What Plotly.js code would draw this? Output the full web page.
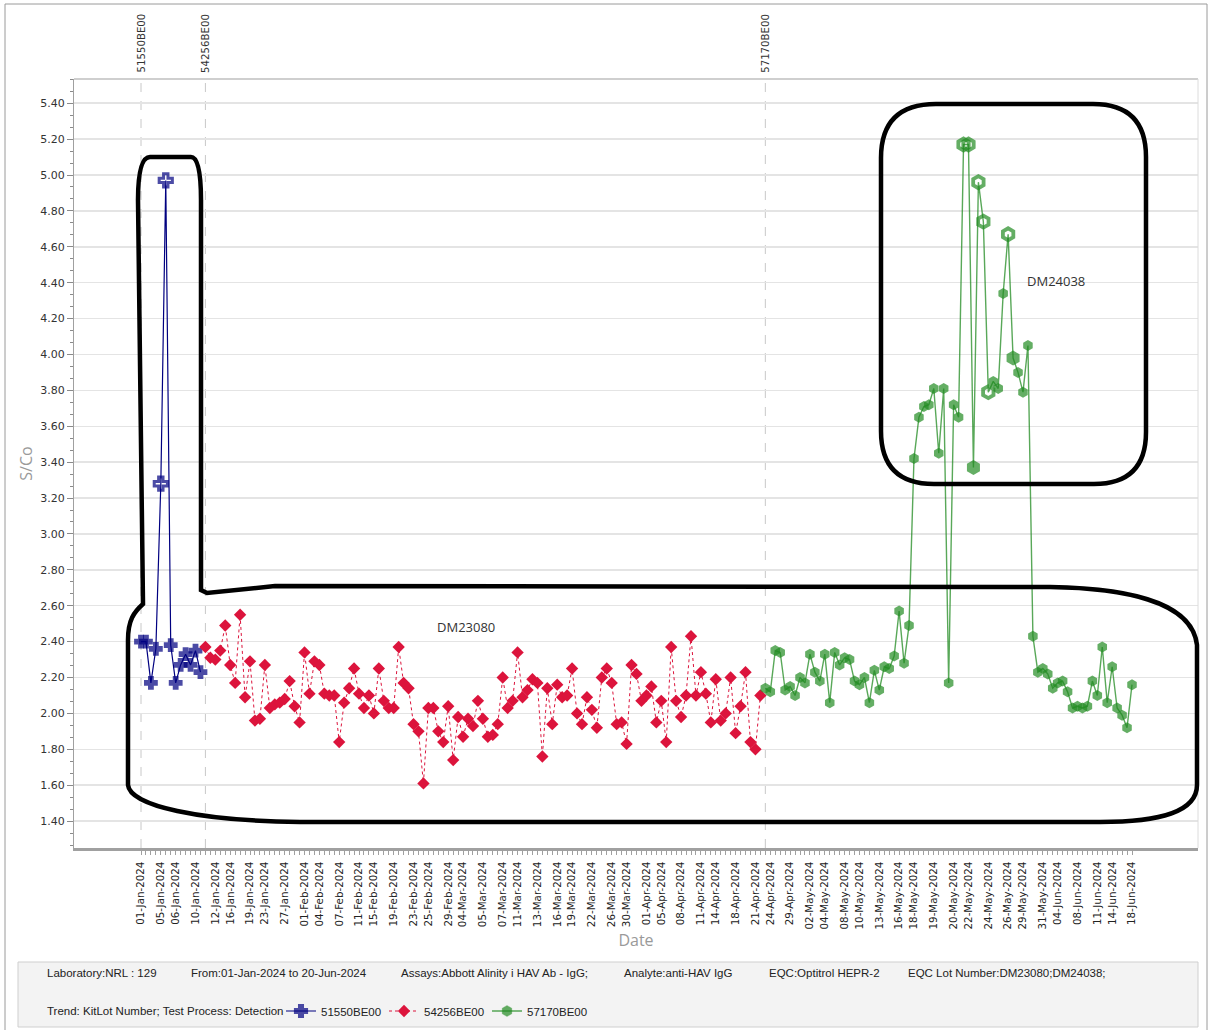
<!DOCTYPE html>
<html><head><meta charset="utf-8">
<script src="https://cdn.plot.ly/plotly-3.0.1.min.js"></script>
<style>html,body{margin:0;padding:0;background:#fff;} #chart{width:1209px;height:1030px;}</style>
</head><body><div id="chart"></div>
<script>
// ---------- DATA ----------
const dateLabels = [
 '01-Jan-2024','05-Jan-2024','06-Jan-2024','10-Jan-2024','12-Jan-2024','16-Jan-2024','19-Jan-2024','23-Jan-2024','27-Jan-2024',
 '01-Feb-2024','04-Feb-2024','07-Feb-2024','11-Feb-2024','15-Feb-2024','19-Feb-2024','23-Feb-2024','25-Feb-2024','29-Feb-2024',
 '04-Mar-2024','05-Mar-2024','07-Mar-2024','11-Mar-2024','13-Mar-2024','16-Mar-2024','19-Mar-2024','22-Mar-2024','26-Mar-2024','30-Mar-2024',
 '01-Apr-2024','05-Apr-2024','08-Apr-2024','11-Apr-2024','14-Apr-2024','18-Apr-2024','21-Apr-2024','24-Apr-2024','29-Apr-2024',
 '02-May-2024','04-May-2024','08-May-2024','10-May-2024','13-May-2024','16-May-2024','18-May-2024','19-May-2024','20-May-2024',
 '22-May-2024','24-May-2024','26-May-2024','29-May-2024','31-May-2024',
 '04-Jun-2024','08-Jun-2024','11-Jun-2024','14-Jun-2024','18-Jun-2024'
];
const lotNames = ['51550BE00','54256BE00','57170BE00'];

const lot51550Values = [2.40, 2.40, 2.17, 2.36, 3.28, 4.97, 2.38, 2.17, 2.27, 2.33, 2.27, 2.35, 2.23];
const lot54256Values = [
 2.37, 2.31, 2.30, 2.35, 2.49, 2.27, 2.17, 2.55, 2.09, 2.29,
 1.96, 1.97, 2.27, 2.03, 2.05, 2.06, 2.08, 2.18, 2.04, 1.95,
 2.34, 2.11, 2.29, 2.27, 2.11, 2.10, 2.10, 1.84, 2.06, 2.14,
 2.25, 2.11, 2.03, 2.10, 2.00, 2.25, 2.07, 2.03, 2.03, 2.37,
 2.17, 2.14, 1.94, 1.90, 1.61,
 2.03, 2.03, 1.90, 1.84, 2.04, 1.74, 1.98, 1.87, 1.97, 1.93,
 2.07, 1.97, 1.87, 1.88, 1.94, 2.20, 2.03, 2.07, 2.34, 2.09,
 2.13, 2.19, 2.17, 1.76, 2.14, 1.94, 2.16, 2.09, 2.10, 2.25,
 2.00, 1.94, 2.09, 2.02, 1.92, 2.20, 2.25, 2.17, 1.94, 1.95,
 1.83, 2.27, 2.22, 2.07, 2.10, 2.15, 1.95, 2.07, 1.84, 2.37,
 2.07, 1.98, 2.10, 2.43, 2.10, 2.23, 2.11, 1.95, 2.19, 1.96,
 2.00, 2.20, 1.89, 2.04, 2.23, 1.84, 1.80, 2.10
];
const lot57170Values = [
 2.14, 2.12, 2.35, 2.34, 2.13, 2.15, 2.10, 2.20, 2.17, 2.33,
 2.23, 2.18, 2.33, 2.06, 2.34, 2.27, 2.31, 2.30, 2.18, 2.16,
 2.20, 2.06, 2.24, 2.13, 2.26, 2.25, 2.32, 2.57, 2.28, 2.49,
 3.42, 3.65, 3.71, 3.72, 3.81, 3.45, 3.81, 2.17, 3.72, 3.65,
 5.17, 5.17, 3.37, 4.96, 4.74, 3.79, 3.85, 3.81, 4.34, 4.67,
 3.98, 3.90, 3.79, 4.05,
 2.43, 2.23, 2.25, 2.22, 2.14, 2.17, 2.18, 2.12, 2.03, 2.04,
 2.03, 2.04, 2.18, 2.10, 2.37, 2.06, 2.26, 2.03, 1.99, 1.92, 2.16
];
// points flagged (drawn hollow) / overlapping points (drawn larger)
const lot51550Flagged = [4, 5];
const lot57170Flagged = [40, 41, 43, 44, 45, 49];
const lot57170Overlap = [42, 50];

const footerRow1 = [
 'Laboratory:NRL : 129', 'From:01-Jan-2024 to 20-Jun-2024', 'Assays:Abbott Alinity i HAV Ab - IgG;',
 'Analyte:anti-HAV IgG', 'EQC:Optitrol HEPR-2', 'EQC Lot Number:DM23080;DM24038;'
];
const footerRow2 = 'Trend: KitLot Number; Test Process: Detection';
const boxLabels = ['DM23080', 'DM24038'];

// ---------- GEOMETRY (pixels of the page) ----------
const W = 1209, H = 1030;
const L = 74, R = 1198, T = 79, B = 848;
const px = v => (v - L) / (R - L);
const py = v => (B - v) / (B - T);
const firstPx = 141, lastPx = 1132;
const n1 = lot51550Values.length, n2 = lot54256Values.length, n3 = lot57170Values.length;
const nTotal = n1 + n2 + n3;
const step = (lastPx - firstPx) / (nTotal - 1);
const start = [0, n1, n1 + n2];
const xRange = [(L - firstPx) / step, (R - firstPx) / step];
const tickVals = dateLabels.map((d, i) => Math.round(i * (nTotal - 1) / (dateLabels.length - 1)));
const allIdx = Array.from({length: nTotal}, (_, i) => i);

function pathPx(s) {
  return s.replace(/(-?[\d.]+),(-?[\d.]+)/g, (m, a, b) => px(+a).toFixed(5) + ',' + py(+b).toFixed(5));
}

const navy = '#000080', crimson = '#DC143C', green = '#228B22';

const blueSym = lot51550Values.map((v, i) => lot51550Flagged.includes(i) ? 'cross-open' : 'cross');
const blueSize = lot51550Values.map((v, i) => lot51550Flagged.includes(i) ? 11 : 10);
const blueLW = lot51550Values.map((v, i) => lot51550Flagged.includes(i) ? 3 : 1.8);

const greenSym = lot57170Values.map((v, i) => lot57170Flagged.includes(i) ? 'hexagon-open' : 'hexagon');
const greenSize = lot57170Values.map((v, i) => lot57170Flagged.includes(i) ? 12 : (lot57170Overlap.includes(i) ? 15 : 11));
const greenLW = lot57170Values.map((v, i) => lot57170Flagged.includes(i) ? 3.8 : 0);

const traces = [
  {
    name: lotNames[0], type: 'scatter', mode: 'lines+markers',
    x: lot51550Values.map((v, i) => start[0] + i), y: lot51550Values,
    line: {color: navy, width: 1.2},
    marker: {symbol: blueSym, size: blueSize, color: navy, line: {color: navy, width: blueLW}}
  },
  {
    name: lotNames[1], type: 'scatter', mode: 'lines+markers',
    x: lot54256Values.map((v, i) => start[1] + i), y: lot54256Values,
    line: {color: crimson, width: 1, dash: 'dot'},
    marker: {symbol: 'diamond', size: 9.5, color: crimson, line: {width: 0}}
  },
  {
    name: lotNames[2], type: 'scatter', mode: 'lines+markers',
    x: lot57170Values.map((v, i) => start[2] + i), y: lot57170Values,
    line: {color: 'rgba(34,139,34,0.75)', width: 1.4},
    marker: {symbol: greenSym, size: greenSize, color: green, line: {color: green, width: greenLW}}
  }
];

const shapes = [];
// outer frame
shapes.push({type: 'rect', xref: 'paper', yref: 'paper', x0: px(5), x1: px(1207), y0: py(1040), y1: py(4),
  line: {color: '#9a9a9a', width: 1}, fillcolor: 'rgba(0,0,0,0)', layer: 'below'});
// footer box
shapes.push({type: 'rect', xref: 'paper', yref: 'paper', x0: px(18), x1: px(1198), y0: py(1027), y1: py(962),
  line: {color: '#cfcfcf', width: 1}, fillcolor: '#f3f3f3', layer: 'below'});
// plot top line and right line
shapes.push({type: 'line', xref: 'paper', yref: 'paper', x0: 0, x1: 1, y0: 1, y1: 1, line: {color: '#a0a0a0', width: 1.2}});
shapes.push({type: 'line', xref: 'paper', yref: 'paper', x0: 1, x1: 1, y0: 0, y1: 1, line: {color: '#dcdcdc', width: 1}});
// lot change dashed lines
start.forEach(s => shapes.push({type: 'line', xref: 'x', yref: 'paper', x0: s, x1: s, y0: 0, y1: 1,
  line: {color: '#c8c8c8', width: 1, dash: 'dash'}, layer: 'below'}));
// hand drawn outline around lots 1 & 2
shapes.push({type: 'path', xref: 'paper', yref: 'paper', line: {color: '#000', width: 4.5},
  path: pathPx('M 143,604 L 138,200 Q 138,157 150,157 L 191,157 Q 201,157 201,200 L 201,590 L 207,593 L 275,586 L 1050,587 C 1120,588 1192,600 1197,645 L 1197,785 C 1197,812 1160,822 1100,822 L 300,822 C 200,821 130,806 128,785 L 128,640 C 128,620 134,612 143,604 Z')});
// outline around DM24038
shapes.push({type: 'path', xref: 'paper', yref: 'paper', line: {color: '#000', width: 4.5},
  path: pathPx('M 936,104 L 1093,104 Q 1146,104 1146,157 L 1146,432 Q 1146,484 1094,484 L 934,484 Q 881,484 881,431 L 881,158 Q 881,104 936,104 Z')});

const annotations = [];
lotNames.forEach((n, k) => annotations.push({xref: 'x', yref: 'paper', x: start[k], y: py(12), xanchor: 'center', yanchor: 'top',
  text: n, textangle: -90, showarrow: false, font: {family: 'DejaVu Sans', size: 10.2, color: '#333'}}));
annotations.push({xref: 'paper', yref: 'paper', x: px(466), y: py(627), xanchor: 'center', yanchor: 'middle', text: boxLabels[0], showarrow: false,
  font: {family: 'Open Sans', size: 13, color: '#333'}});
annotations.push({xref: 'paper', yref: 'paper', x: px(1056), y: py(281), xanchor: 'center', yanchor: 'middle', text: boxLabels[1], showarrow: false,
  font: {family: 'Open Sans', size: 13, color: '#333'}});
const row1X = [45, 189, 399, 622, 767, 906];
footerRow1.forEach((t, i) => annotations.push({xref: 'paper', yref: 'paper', x: px(row1X[i]), y: py(973), xanchor: 'left', yanchor: 'middle',
  text: t, showarrow: false, font: {family: 'Liberation Sans', size: 11.5, color: '#222'}}));
annotations.push({xref: 'paper', yref: 'paper', x: px(45), y: py(1011), xanchor: 'left', yanchor: 'middle',
  text: footerRow2, showarrow: false, font: {family: 'Liberation Sans', size: 11.5, color: '#222'}});

const layout = {
  width: W, height: H,
  margin: {l: L, r: W - R, t: T, b: H - B, pad: 0},
  paper_bgcolor: '#fff', plot_bgcolor: '#fff',
  showlegend: true,
  legend: {orientation: 'h', xref: 'container', yref: 'container', x: 281 / W, y: (H - 1011) / H, xanchor: 'left', yanchor: 'middle',
    font: {family: 'Liberation Sans', size: 11.5, color: '#222'}, bgcolor: 'rgba(0,0,0,0)',
    itemwidth: 30, itemsizing: 'trace', entrywidth: 58, entrywidthmode: 'pixels'},
  xaxis: {
    range: xRange, showgrid: false, zeroline: false, automargin: false,
    showline: true, linecolor: '#a0a0a0', linewidth: 2.5,
    tickmode: 'array', tickvals: tickVals, ticktext: dateLabels, tickangle: -90,
    ticks: 'outside', ticklen: 4, tickcolor: '#a0a0a0', tickwidth: 1, ticklabelstandoff: 3,
    tickfont: {family: 'DejaVu Sans', size: 10.3, color: '#222'},
    minor: {tickmode: 'array', tickvals: allIdx, ticks: 'outside', ticklen: 4, tickcolor: '#a0a0a0', tickwidth: 1, showgrid: false},
    title: {text: 'Date', font: {family: 'Open Sans', size: 16, color: '#9a9a9a'}}
  },
  yaxis: {
    range: [1.25, 5.535], tick0: 1.4, dtick: 0.2, tickformat: '.2f', automargin: false,
    showgrid: true, gridcolor: '#e4e4e4', gridwidth: 1.5, zeroline: false,
    showline: true, linecolor: '#a0a0a0', linewidth: 1,
    ticks: 'outside', ticklen: 6, tickcolor: '#8a8a8a', tickwidth: 1,
    minor: {dtick: 0.2 / 3, tick0: 1.4, ticks: 'outside', ticklen: 3, tickcolor: '#8a8a8a', showgrid: false},
    tickfont: {family: 'DejaVu Sans', size: 11, color: '#333'},
    title: {text: 'S/Co', font: {family: 'Open Sans', size: 16, color: '#9a9a9a'}}
  },
  shapes: shapes,
  annotations: annotations,
  hovermode: false
};

Plotly.newPlot('chart', traces, layout, {displayModeBar: false, staticPlot: true});
</script>
</body></html>
